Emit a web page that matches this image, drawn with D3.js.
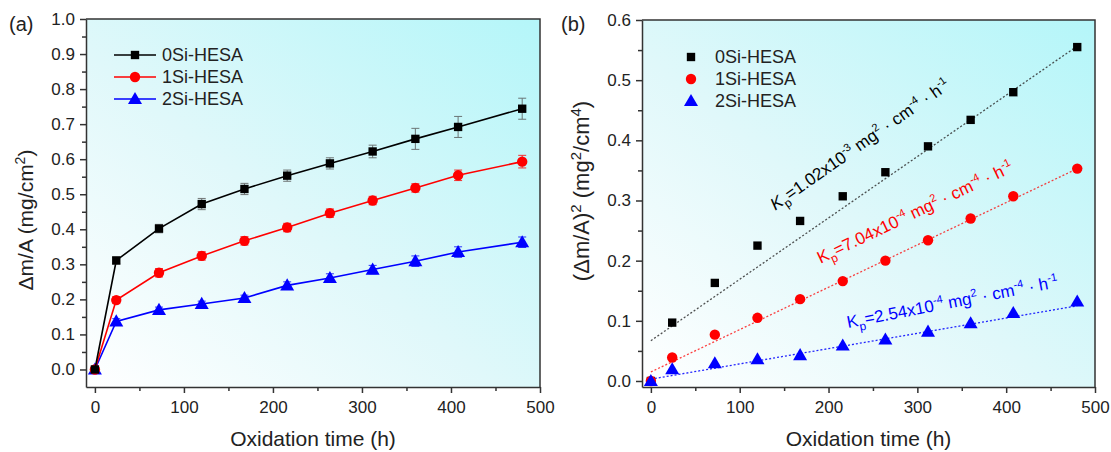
<!DOCTYPE html>
<html>
<head>
<meta charset="utf-8">
<script src="https://cdn.jsdelivr.net/npm/d3@7"></script>
<style>
  body { margin: 0; background: #fff; }
  text { font-family: "Liberation Sans", Arial, sans-serif; }
</style>
</head>
<body>
<svg id="chart" width="1111" height="452"></svg>
<script>
// oxidation times (h)
const times = [0, 24, 72, 120, 168, 216, 264, 312, 360, 408, 480];

// (a) mass gain per area, mg/cm2
const gain0Si = [0, 0.311, 0.402, 0.472, 0.515, 0.553, 0.588, 0.622, 0.658, 0.692, 0.744];
const gain1Si = [0, 0.198, 0.276, 0.324, 0.367, 0.405, 0.446, 0.482, 0.518, 0.554, 0.593];
const gain2Si = [0, 0.137, 0.170, 0.187, 0.204, 0.240, 0.261, 0.285, 0.309, 0.335, 0.363];
const err0Si = [0, 0.010, 0.012, 0.016, 0.016, 0.016, 0.016, 0.018, 0.030, 0.030, 0.030];
const err1Si = [0, 0.010, 0.012, 0.012, 0.012, 0.012, 0.012, 0.012, 0.012, 0.015, 0.018];
const err2Si = [0, 0.008, 0.008, 0.008, 0.008, 0.010, 0.012, 0.012, 0.015, 0.015, 0.015];

// (b) squared mass gain, mg2/cm4
const sq0Si = [0, 0.097, 0.163, 0.225, 0.266, 0.307, 0.347, 0.390, 0.434, 0.480, 0.555];
const sq1Si = [0, 0.039, 0.077, 0.105, 0.136, 0.166, 0.200, 0.234, 0.270, 0.307, 0.353];
const sq2Si = [0, 0.0195, 0.0295, 0.036, 0.043, 0.059, 0.069, 0.082, 0.096, 0.113, 0.132];

// linear fits: slope kp, intercept
const fitSlope = [1.02e-3, 7.04e-4, 2.54e-4];
const fitIntercept = [0.067, 0.015, 0.003];

const seriesNames = ['0Si-HESA', '1Si-HESA', '2Si-HESA'];
const seriesColors = ['#000000', '#ff0000', '#0000ff'];
const seriesShapes = [d3.symbolSquare, d3.symbolCircle, d3.symbolTriangle];
const shapeSizes = [70, 85, 85];

const xTicks = [0, 100, 200, 300, 400, 500];
const yTicksA = [0, 0.1, 0.2, 0.3, 0.4, 0.5, 0.6, 0.7, 0.8, 0.9, 1.0];
const yTicksB = [0, 0.1, 0.2, 0.3, 0.4, 0.5, 0.6];

const svg = d3.select('#chart');
const defs = svg.append('defs');

const makePanel = (id, box, yDomain, yTicks) => {
	const grad = defs.append('linearGradient')
		.attr('id', 'bg-' + id)
		.attr('x1', 0).attr('y1', 1).attr('x2', 1).attr('y2', 0);
	grad.append('stop').attr('offset', '0%').attr('stop-color', '#ffffff');
	grad.append('stop').attr('offset', '45%').attr('stop-color', '#e0f8fa');
	grad.append('stop').attr('offset', '100%').attr('stop-color', '#b4f6f9');

	const x = d3.scaleLinear().domain([-10, 500]).range([box.left, box.right]);
	const y = d3.scaleLinear().domain(yDomain).range([box.bottom, box.top]);
	const g = svg.append('g');

	g.append('rect')
		.attr('x', box.left).attr('y', box.top)
		.attr('width', box.right - box.left).attr('height', box.bottom - box.top)
		.attr('fill', `url(#bg-${id})`);

	// minor ticks halfway between majors
	const xMinor = d3.range(50, 500, 100);
	const yStep = yTicks[1] - yTicks[0];
	const yMinor = yTicks.slice(0, -1).map(v => v + yStep / 2);

	g.append('g')
		.attr('transform', `translate(0,${box.bottom})`)
		.call(d3.axisBottom(x).tickValues(xTicks).tickFormat(d3.format('d')).tickSize(6).tickPadding(8).tickSizeOuter(0));
	g.append('g')
		.attr('transform', `translate(0,${box.bottom})`)
		.call(d3.axisBottom(x).tickValues(xMinor).tickFormat('').tickSize(4).tickSizeOuter(0))
		.select('.domain').remove();
	g.append('g')
		.attr('transform', `translate(${box.left},0)`)
		.call(d3.axisLeft(y).tickValues(yTicks).tickFormat(d3.format('.1f')).tickSize(6).tickPadding(5).tickSizeOuter(0));
	g.append('g')
		.attr('transform', `translate(${box.left},0)`)
		.call(d3.axisLeft(y).tickValues(yMinor).tickFormat('').tickSize(4).tickSizeOuter(0))
		.select('.domain').remove();

	g.selectAll('.tick line').attr('stroke', '#333').attr('stroke-width', 1.5);
	g.selectAll('.domain').attr('stroke', '#333').attr('stroke-width', 1.5);
	g.selectAll('.tick text').attr('font-size', 17).attr('fill', '#222')
		.attr('font-family', '"Liberation Sans", Arial, sans-serif');

	// frame top/right
	g.append('path')
		.attr('d', `M${box.left},${box.top}H${box.right}V${box.bottom}`)
		.attr('fill', 'none').attr('stroke', '#333').attr('stroke-width', 1.5);

	g.append('text')
		.attr('x', (box.left + box.right) / 2).attr('y', 446)
		.attr('text-anchor', 'middle').attr('font-size', 21).attr('fill', '#222')
		.text('Oxidation time (h)');

	return { g, x, y };
};

const drawMarkers = (g, pts, i) => {
	g.selectAll(null).data(pts).join('path')
		.attr('transform', d => `translate(${d[0]},${d[1] + (i === 2 ? 1 : 0)})`)
		.attr('d', d3.symbol().type(seriesShapes[i]).size(shapeSizes[i]))
		.attr('fill', seriesColors[i]);
};

// ---------- panel (a)
const A = makePanel('a', { left: 86, right: 540, top: 19, bottom: 387 }, [-0.05, 1.0], yTicksA);
const gainSets = [gain0Si, gain1Si, gain2Si];
const errSets = [err0Si, err1Si, err2Si];

[2, 1, 0].forEach(i => {
	const vals = gainSets[i];
	const errs = errSets[i];
	const pts = times.map((t, k) => [A.x(t), A.y(vals[k])]);
	A.g.append('path')
		.attr('d', d3.line()(pts))
		.attr('fill', 'none').attr('stroke', seriesColors[i]).attr('stroke-width', 1.6);
	const eb = A.g.append('g').attr('stroke', i === 0 ? '#555' : seriesColors[i]).attr('stroke-width', 1).attr('opacity', 0.8);
	times.forEach((t, k) => {
		if (!errs[k]) return;
		const cx = A.x(t), y1 = A.y(vals[k] - errs[k]), y2 = A.y(vals[k] + errs[k]);
		eb.append('line').attr('x1', cx).attr('x2', cx).attr('y1', y1).attr('y2', y2);
		eb.append('line').attr('x1', cx - 4).attr('x2', cx + 4).attr('y1', y1).attr('y2', y1);
		eb.append('line').attr('x1', cx - 4).attr('x2', cx + 4).attr('y1', y2).attr('y2', y2);
	});
	drawMarkers(A.g, pts, i);
});

// legend (a)
seriesNames.forEach((name, i) => {
	const ly = 55 + i * 22;
	A.g.append('line').attr('x1', 114).attr('x2', 156).attr('y1', ly).attr('y2', ly)
		.attr('stroke', seriesColors[i]).attr('stroke-width', 1.6);
	drawMarkers(A.g, [[135, ly]], i);
	A.g.append('text').attr('x', 162).attr('y', ly + 6).attr('font-size', 18).attr('fill', '#222').text(name);
});

A.g.append('text')
	.attr('transform', 'translate(33,220) rotate(-90)')
	.attr('text-anchor', 'middle').attr('font-size', 21).attr('fill', '#222')
	.call(t => {
		t.append('tspan').text('Δm/A (mg/cm');
		t.append('tspan').attr('dy', -8).attr('font-size', 14).text('2');
		t.append('tspan').attr('dy', 8).text(')');
	});

svg.append('text').attr('x', 9).attr('y', 31).attr('font-size', 20).attr('fill', '#222').text('(a)');

// ---------- panel (b)
const B = makePanel('b', { left: 642, right: 1095, top: 20, bottom: 387 }, [-0.01, 0.6], yTicksB);
const sqSets = [sq0Si, sq1Si, sq2Si];

[0, 1, 2].forEach(i => {
	B.g.append('line')
		.attr('x1', B.x(0)).attr('y1', B.y(fitIntercept[i]))
		.attr('x2', B.x(480)).attr('y2', B.y(fitIntercept[i] + fitSlope[i] * 480))
		.attr('stroke', i === 0 ? '#333' : seriesColors[i]).attr('stroke-width', 1.3)
		.attr('stroke-dasharray', '2,2').attr('opacity', i === 1 ? 0.75 : 0.85);
});
[0, 1, 2].forEach(i => {
	const pts = times.map((t, k) => [B.x(t), B.y(sqSets[i][k])]);
	drawMarkers(B.g, pts, i);
});

seriesNames.forEach((name, i) => {
	const ly = 57 + i * 22;
	drawMarkers(B.g, [[691, ly]], i);
	B.g.append('text').attr('x', 715).attr('y', ly + 6).attr('font-size', 18).attr('fill', '#222').text(name);
});

// Kp annotations
const kpLabels = [
	{ mant: '1.02', exp: '-3', at: [140, 0.283], angle: -35, italic: true },
	{ mant: '7.04', exp: '-4', at: [191, 0.195], angle: -25.5, italic: false },
	{ mant: '2.54', exp: '-4', at: [222, 0.088], angle: -11, italic: false },
];
kpLabels.forEach((k, i) => {
	const t = B.g.append('text')
		.attr('transform', `translate(${B.x(k.at[0])},${B.y(k.at[1])}) rotate(${k.angle})`)
		.attr('font-size', 17).attr('fill', seriesColors[i]);
	t.append('tspan').attr('font-style', k.italic ? 'italic' : 'normal').text('K');
	t.append('tspan').attr('dy', 5).attr('font-size', 12).text('p');
	t.append('tspan').attr('dy', -5).text(`=${k.mant}x10`);
	t.append('tspan').attr('dy', -7).attr('font-size', 11).text(k.exp);
	t.append('tspan').attr('dy', 7).text(' mg');
	t.append('tspan').attr('dy', -7).attr('font-size', 11).text('2');
	t.append('tspan').attr('dy', 7).text(' · cm');
	t.append('tspan').attr('dy', -7).attr('font-size', 11).text('-4');
	t.append('tspan').attr('dy', 7).text(' · h');
	t.append('tspan').attr('dy', -7).attr('font-size', 11).text('-1');
});

B.g.append('text')
	.attr('transform', 'translate(589,191) rotate(-90)')
	.attr('text-anchor', 'middle').attr('font-size', 22).attr('fill', '#222')
	.call(t => {
		t.append('tspan').text('(Δm/A)');
		t.append('tspan').attr('dy', -8).attr('font-size', 15).text('2');
		t.append('tspan').attr('dy', 8).text(' (mg');
		t.append('tspan').attr('dy', -8).attr('font-size', 15).text('2');
		t.append('tspan').attr('dy', 8).text('/cm');
		t.append('tspan').attr('dy', -8).attr('font-size', 15).text('4');
		t.append('tspan').attr('dy', 8).text(')');
	});

svg.append('text').attr('x', 561).attr('y', 31).attr('font-size', 20).attr('fill', '#222').text('(b)');
</script>
</body>
</html>
